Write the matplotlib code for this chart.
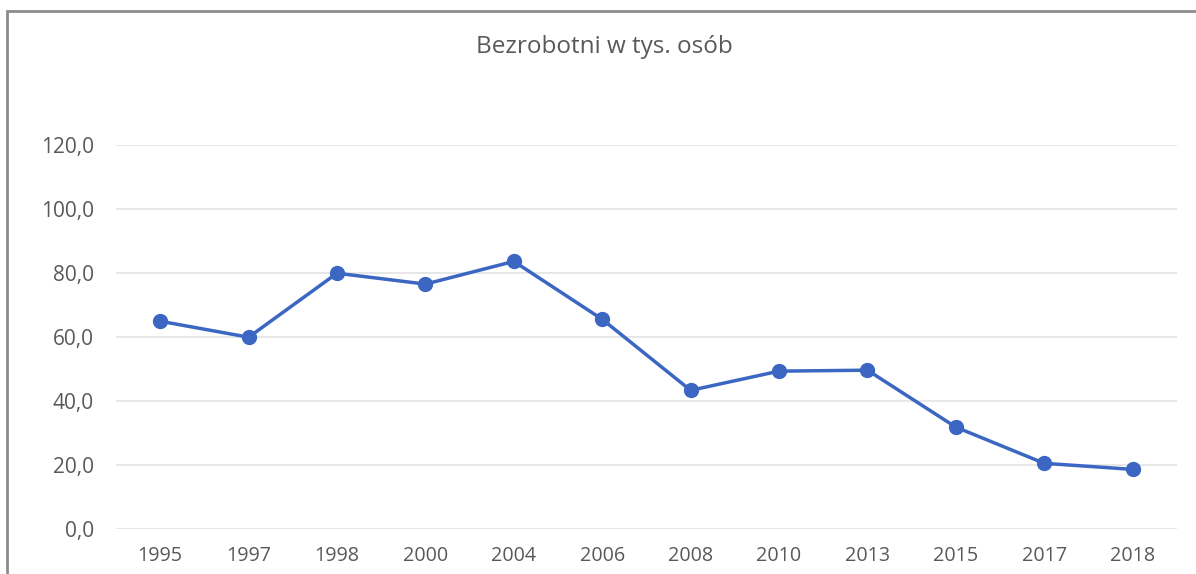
import matplotlib.pyplot as plt
from matplotlib.patches import Rectangle

lata = ['1995', '1997', '1998', '2000', '2004', '2006', '2008', '2010', '2013', '2015', '2017', '2018']
bezrobotni = [65.0, 60.0, 80.0, 76.6, 83.7, 65.6, 43.4, 49.4, 49.7, 31.9, 20.6, 18.7]
tytul = 'Bezrobotni w tys. osób'

plt.rcParams['font.family'] = ['Open Sans', 'DejaVu Sans']

fig = plt.figure(figsize=(11.96, 5.74), dpi=100)
ax = fig.add_axes([0.097, 0.078, 0.887, 0.669])

# ramka wykresu (krawedz obrazka)
fig.patches.append(Rectangle((7 / 1196, -0.01), 1.02, 1 - 11 / 574 + 0.01,
                             transform=fig.transFigure, fill=False,
                             edgecolor='#8c8c8c', linewidth=2.0))

x = range(len(lata))
ax.plot(x, bezrobotni, '-o', color='#3b67c2', linewidth=2.5, markersize=10, zorder=3)

ax.set_xlim(-0.5, len(lata) - 0.5)
ax.set_ylim(0, 120)
ax.set_yticks(range(0, 121, 20))
ax.set_yticklabels([f'{v},0' for v in range(0, 121, 20)])
ax.set_xticks(list(x))
ax.set_xticklabels(lata)

ax.grid(axis='y', color='#e3e3e3', linewidth=1.2)
ax.set_axisbelow(True)
for s in ax.spines.values():
    s.set_visible(False)
ax.tick_params(length=0, colors='#595959')
ax.tick_params(axis='x', labelsize=14.2, pad=12)
ax.tick_params(axis='y', labelsize=15, pad=16)

fig.text(0.505, 1 - 47 / 574, tytul, ha='center', va='center', fontsize=17.5, color='#595959')

fig.savefig('out.png', dpi=100)
